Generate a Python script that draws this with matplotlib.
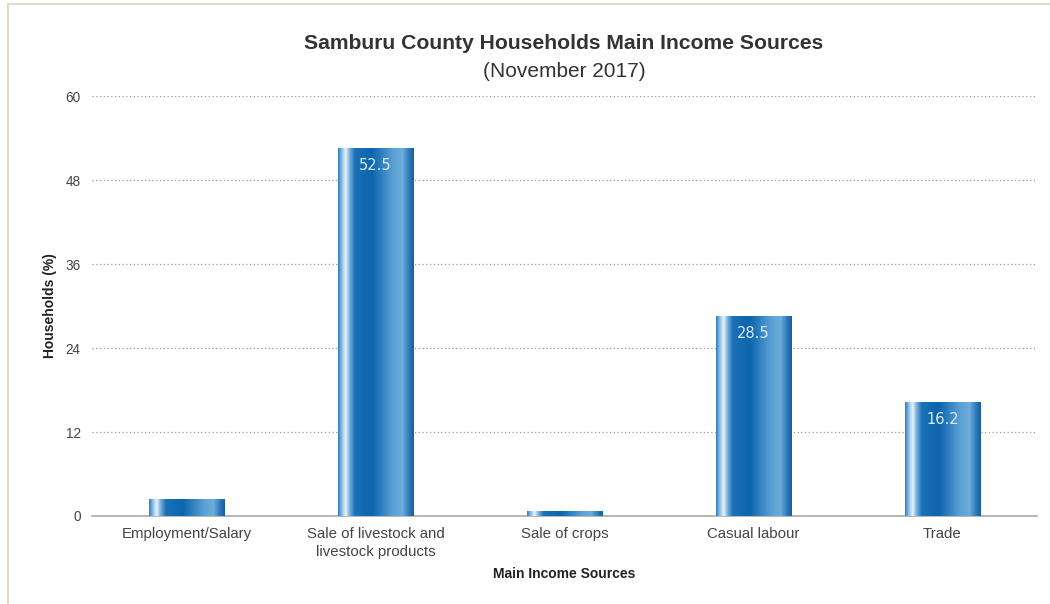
import numpy as np
import matplotlib
matplotlib.use("Agg")
import matplotlib.pyplot as plt
from matplotlib.colors import LinearSegmentedColormap
from matplotlib.lines import Line2D

sources = ["Employment/Salary", "Sale of livestock and\nlivestock products",
           "Sale of crops", "Casual labour", "Trade"]
households = [2.3, 52.5, 0.7, 28.5, 16.2]
yticks = [0, 12, 24, 36, 48, 60]

plt.rcParams['font.family'] = ['Liberation Sans', 'DejaVu Sans']

# cylinder-style shading across each bar
shade = LinearSegmentedColormap.from_list("shade", [
    (0.00, "#2f7cbd"), (0.05, "#8fc0e6"), (0.10, "#eaf4fc"),
    (0.15, "#7ab2de"), (0.22, "#1c70b7"), (0.45, "#0d65ae"),
    (0.72, "#5a9fd4"), (0.85, "#6badda"), (0.94, "#2d78b9"),
    (1.00, "#135fa2")])
grad = np.linspace(0, 1, 256).reshape(1, -1)

fig = plt.figure(figsize=(10.5, 6.04), dpi=100)
ax = fig.add_axes([0.0876, 0.1457, 0.9, 0.6953])

width = 0.4
x = np.arange(len(sources))
for xi, v in zip(x, households):
    ax.imshow(grad, extent=[xi - width / 2, xi + width / 2, 0, v],
              aspect='auto', cmap=shade, zorder=3, interpolation='bilinear')
    if v > 5:
        ax.annotate(f"{v}", (xi, v), xytext=(0, -7), textcoords='offset points',
                    ha='center', va='top', color='#dcecf8', fontsize=10.5,
                    family='DejaVu Sans', zorder=4)

ax.set_xlim(-0.5, len(sources) - 0.5)
ax.set_ylim(0, 60)
ax.set_yticks(yticks)
ax.set_xticks(x)
ax.set_xticklabels(sources, fontsize=10.8, color='#444444', linespacing=1.35)
ax.tick_params(axis='both', length=0, labelcolor='#444444')
ax.tick_params(axis='x', pad=8)
ax.tick_params(axis='y', labelsize=9.8, pad=8)
ax.grid(axis='y', linestyle=(0, (1, 2)), color='#999999', linewidth=0.9)
ax.set_axisbelow(True)
for side in ['top', 'right', 'left']:
    ax.spines[side].set_visible(False)
ax.spines['bottom'].set_color('#aaaaaa')
ax.spines['bottom'].set_linewidth(1.2)

ax.set_xlabel("Main Income Sources", fontsize=10, fontweight='bold',
              color='#222222', labelpad=6)
ax.set_ylabel("Households (%)", fontsize=10, fontweight='bold',
              color='#222222', labelpad=6)

fig.text(0.537, 0.928, "Samburu County Households Main Income Sources",
         ha='center', va='center', fontsize=15.2, fontweight='bold', color='#333333')
fig.text(0.537, 0.881, "(November 2017)", ha='center', va='center',
         fontsize=15, color='#333333')

# thin frame along the top and left edges
fig.add_artist(Line2D([0.008, 0.008], [0, 0.993], color='#e2dcc4', linewidth=1.5))
fig.add_artist(Line2D([0.008, 1], [0.993, 0.993], color='#e2dcc4', linewidth=1.5))

fig.savefig("out.png", dpi=100)
